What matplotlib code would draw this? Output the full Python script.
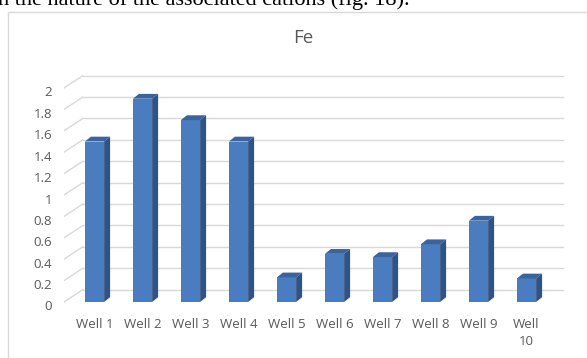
import matplotlib.pyplot as plt
import matplotlib.transforms as mtransforms
from matplotlib.patches import Polygon, Rectangle

# Fe content per well
wells = ["Well 1", "Well 2", "Well 3", "Well 4", "Well 5",
         "Well 6", "Well 7", "Well 8", "Well 9", "Well\n10"]
fe = [1.5, 1.9, 1.7, 1.5, 0.23, 0.45, 0.42, 0.54, 0.76, 0.22]
yticks = [0, 0.2, 0.4, 0.6, 0.8, 1, 1.2, 1.4, 1.6, 1.8, 2]

W, H = 587, 358
fig = plt.figure(figsize=(W / 100, H / 100), dpi=100)
fig.patch.set_facecolor("white")

# caption line from the page, cut off at the top
fig.text(-2 / W, 1 - 5.5 / H, "h the nature of the associated cations (fig. 18).",
         family="Liberation Serif", fontsize=16, color="black",
         ha="left", va="baseline")

# chart frame
frame = Rectangle((8 / W, -0.2), 1.2, 1 - 12 / H + 0.2, transform=fig.transFigure,
                  fill=False, edgecolor="#d9d9d9", lw=1)
fig.add_artist(frame)

# axes placed so one bar slot is 48 px and one unit is 107 px
px0, px1, py_top, py_bot = 64, 570, 60, 310
ax = fig.add_axes([px0 / W, 1 - py_bot / H, (px1 - px0) / W, (py_bot - py_top) / H])
xmin, xmax = (px0 - 94.5) / 48, (px1 - 94.5) / 48
ax.set_xlim(xmin, xmax)
ax.set_ylim((302 - py_bot) / 107, (302 - py_top) / 107)
for s in ax.spines.values():
    s.set_visible(False)

# back wall gridlines with the slanted floor-to-wall strokes
wall_dx, wall_dy = 0.39, 0.115
grid_end = (563 - 94.5) / 48
for v in yticks:
    ax.plot([xmin, xmin + wall_dx], [v, v + wall_dy], color="#d9d9d9", lw=1, zorder=1)
    ax.plot([xmin + wall_dx, grid_end], [v + wall_dy, v + wall_dy], color="#d9d9d9", lw=1, zorder=1)

# bars: front face plus top and side for depth
x = list(range(len(fe)))
bw, ddx, ddy = 0.4, 0.125, 0.045
ax.bar(x, fe, width=bw, color="#4a7dbf", zorder=3)
for xi, v in zip(x, fe):
    l, r = xi - bw / 2, xi + bw / 2
    ax.add_patch(Polygon([(l, v), (r, v), (r + ddx, v + ddy), (l + ddx, v + ddy)],
                         closed=True, facecolor="#3a64a0", edgecolor="none", zorder=3))
    ax.add_patch(Polygon([(r, 0), (r + ddx, ddy), (r + ddx, v + ddy), (r, v)],
                         closed=True, facecolor="#2f5385", edgecolor="none", zorder=3))

ax.set_xticks(x)
ax.set_xticklabels(wells, fontsize=9.5, color="#595959", family="Open Sans", linespacing=1.35)
ax.set_yticks(yticks)
ax.set_yticklabels([f"{v:g}" for v in yticks], fontsize=9.5, color="#595959", family="Open Sans")
ax.tick_params(length=0, axis="y", pad=8.5)
ax.tick_params(length=0, axis="x", pad=6)
for lab in ax.get_xticklabels():
    lab.set_va("top")

# value labels sit a little below the front edge of each gridline
shift = mtransforms.ScaledTranslation(0, -3.5 / 100, fig.dpi_scale_trans)
for lab in ax.get_yticklabels():
    lab.set_transform(lab.get_transform() + shift)

fig.text(303 / W, 1 - 38 / H, "Fe", fontsize=13.5, color="#595959", family="Open Sans",
         ha="center", va="center")

fig.savefig("out.png", dpi=100)
